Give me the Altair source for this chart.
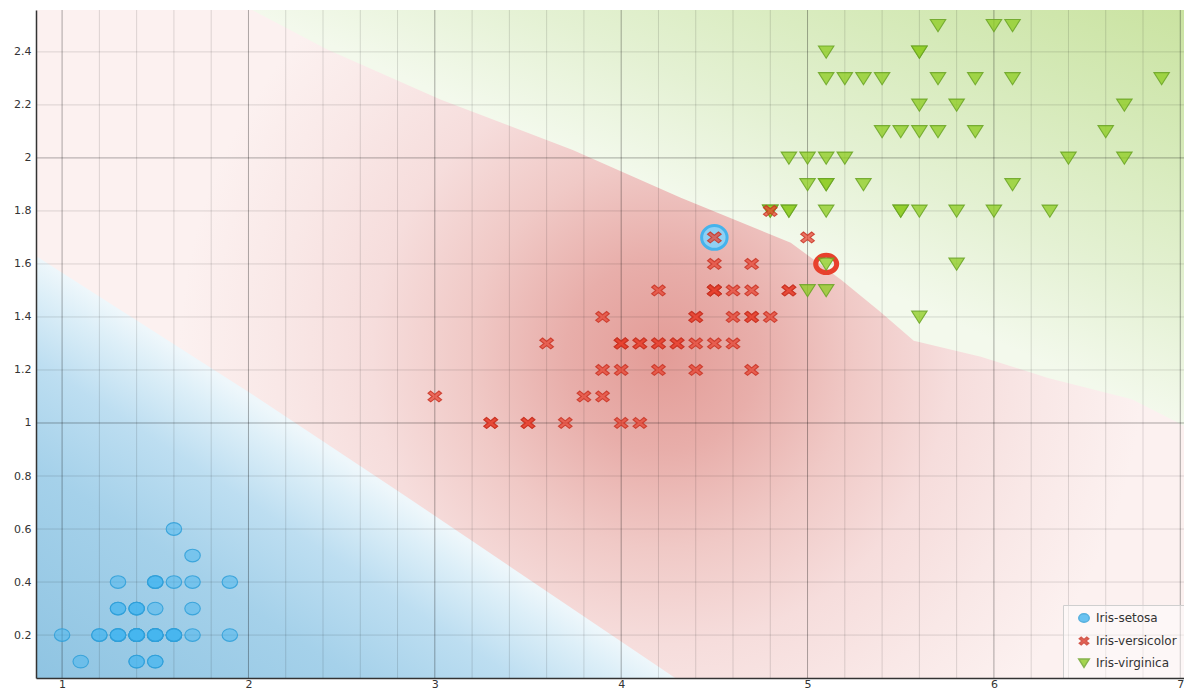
import altair as alt
import pandas as pd

# ---------------- data ----------------
X_DOMAIN = [0.86, 7.02]
Y_DOMAIN = [0.038, 2.558]
X_TICKS = [1, 2, 3, 4, 5, 6, 7]
Y_TICKS = [0.2, 0.4, 0.6, 0.8, 1.0, 1.2, 1.4, 1.6, 1.8, 2.0, 2.2, 2.4]
X_MAJOR_GRID = [1, 2, 3, 4, 5, 6, 7]
X_MINOR_GRID = [1.2, 1.4, 1.6, 1.8, 2.2, 2.4, 2.6, 2.8, 3.2, 3.4, 3.6, 3.8,
                4.2, 4.4, 4.6, 4.8, 5.2, 5.4, 5.6, 5.8, 6.2, 6.4, 6.6, 6.8]
Y_MAJOR_GRID = [1.0, 2.0]
Y_MINOR_GRID = [0.2, 0.4, 0.6, 0.8, 1.2, 1.4, 1.6, 1.8, 2.2, 2.4]

SETOSA_X = [1.4, 1.4, 1.3, 1.5, 1.4, 1.7, 1.4, 1.5, 1.4, 1.5, 1.5, 1.6, 1.4, 1.1, 1.2,
            1.5, 1.3, 1.4, 1.7, 1.5, 1.7, 1.5, 1.0, 1.7, 1.9, 1.6, 1.6, 1.5, 1.4, 1.6,
            1.6, 1.5, 1.5, 1.4, 1.5, 1.2, 1.3, 1.4, 1.3, 1.5, 1.3, 1.3, 1.3, 1.6, 1.9,
            1.4, 1.6, 1.4, 1.5, 1.4]
SETOSA_Y = [0.2, 0.2, 0.2, 0.2, 0.2, 0.4, 0.3, 0.2, 0.2, 0.1, 0.2, 0.2, 0.1, 0.1, 0.2,
            0.4, 0.4, 0.3, 0.3, 0.3, 0.2, 0.4, 0.2, 0.5, 0.2, 0.2, 0.4, 0.2, 0.2, 0.2,
            0.2, 0.4, 0.1, 0.2, 0.2, 0.2, 0.2, 0.1, 0.2, 0.2, 0.3, 0.3, 0.2, 0.6, 0.4,
            0.3, 0.2, 0.2, 0.2, 0.2]

VERSICOLOR_X = [4.7, 4.5, 4.9, 4.0, 4.6, 4.5, 4.7, 3.3, 4.6, 3.9, 3.5, 4.2, 4.0, 4.7, 3.6,
                4.4, 4.5, 4.1, 4.5, 3.9, 4.8, 4.0, 4.9, 4.7, 4.3, 4.4, 4.8, 5.0, 4.5, 3.5,
                3.8, 3.7, 3.9, 4.5, 4.5, 4.5, 4.7, 4.4, 4.1, 4.0, 4.4, 4.6, 4.0, 3.3, 4.2,
                4.2, 4.2, 4.3, 3.0, 4.1]
VERSICOLOR_Y = [1.4, 1.5, 1.5, 1.3, 1.5, 1.3, 1.6, 1.0, 1.3, 1.4, 1.0, 1.5, 1.0, 1.4, 1.3,
                1.4, 1.5, 1.0, 1.5, 1.1, 1.8, 1.3, 1.5, 1.2, 1.3, 1.4, 1.4, 1.7, 1.5, 1.0,
                1.1, 1.0, 1.2, 1.7, 1.5, 1.6, 1.5, 1.3, 1.3, 1.3, 1.2, 1.4, 1.2, 1.0, 1.3,
                1.2, 1.3, 1.3, 1.1, 1.3]

VIRGINICA_X = [6.0, 5.1, 5.9, 5.6, 5.8, 6.6, 5.1, 6.3, 5.8, 6.1, 5.1, 5.3, 5.5, 5.0, 5.1,
               5.3, 5.5, 6.7, 6.9, 5.0, 5.7, 4.9, 6.7, 4.9, 5.7, 6.0, 4.8, 4.9, 5.6, 5.8,
               6.1, 6.4, 5.6, 5.1, 5.6, 6.1, 5.6, 5.5, 4.8, 5.4, 5.6, 5.1, 5.1, 5.9, 5.7,
               5.2, 5.0, 5.2, 5.4, 5.1]
VIRGINICA_Y = [2.5, 1.9, 2.1, 1.8, 2.2, 2.1, 1.6, 1.8, 1.8, 2.5, 2.0, 1.9, 2.1, 2.0, 2.4,
               2.3, 1.8, 2.2, 2.3, 1.5, 2.3, 2.0, 2.0, 1.8, 2.1, 1.8, 1.8, 1.8, 2.1, 1.6,
               1.9, 2.0, 2.2, 1.5, 1.4, 2.3, 2.4, 1.8, 1.8, 2.1, 2.4, 2.3, 1.9, 2.3, 2.5,
               2.3, 1.9, 2.0, 2.3, 1.8]

SPECIES = ["Iris-setosa", "Iris-versicolor", "Iris-virginica"]
COLORS_FILL = ["#45b6f0", "#e8412f", "#8fcd25"]
COLORS_STROKE = ["#2f9fd8", "#c93424", "#6aa324"]
FILL_OPACITY = [0.5, 0.72, 0.78]

# highlighted samples
RING_BLUE_X = [4.5]
RING_BLUE_Y = [1.7]
RING_RED_X = [5.1]
RING_RED_Y = [1.6]

# decision-region edges
BLUE_EDGE_X = [0.86, 2.06, 2.81, 4.29]
BLUE_EDGE_Y = [1.63, 1.09, 0.74, 0.038]
GREEN_EDGE_X = [2.02, 2.42, 3.03, 3.74, 4.32, 4.91, 5.18, 5.39, 5.57, 5.93, 6.29, 6.74, 7.02]
GREEN_EDGE_Y = [2.558, 2.41, 2.22, 2.03, 1.85, 1.68, 1.54, 1.42, 1.31, 1.25, 1.17, 1.09, 0.99]

# ---------------- tables ----------------
frames = {
    SPECIES[0]: pd.DataFrame({"x": SETOSA_X, "y": SETOSA_Y, "species": SPECIES[0]}),
    SPECIES[1]: pd.DataFrame({"x": VERSICOLOR_X, "y": VERSICOLOR_Y, "species": SPECIES[1]}),
    SPECIES[2]: pd.DataFrame({"x": VIRGINICA_X, "y": VIRGINICA_Y, "species": SPECIES[2]}),
}

bg = pd.DataFrame({"x0": [X_DOMAIN[0]], "x1": [X_DOMAIN[1]],
                   "y0": [Y_DOMAIN[0]], "y1": [Y_DOMAIN[1]]})
blue_edge = pd.DataFrame({"x": BLUE_EDGE_X, "y": BLUE_EDGE_Y})
green_edge = pd.DataFrame({"x": GREEN_EDGE_X, "y": GREEN_EDGE_Y})

xs = alt.Scale(domain=X_DOMAIN, nice=False, zero=False)
ys = alt.Scale(domain=Y_DOMAIN, nice=False, zero=False)

FONT = "DejaVu Sans"

x_axis = alt.Axis(values=X_TICKS, format="d", grid=False, ticks=False,
                  domainColor="#333333", domainWidth=1.5, labelFont=FONT,
                  labelFontSize=11, labelColor="#333333", labelPadding=0,
                  labelFlush=False, title=None, zindex=2)
y_axis = alt.Axis(values=Y_TICKS, format="~g", grid=False, ticks=False,
                  domainColor="#333333", domainWidth=1.5, labelFont=FONT,
                  labelFontSize=11, labelColor="#333333", labelPadding=5,
                  labelFlush=False, title=None, zindex=2)

def stops(pairs):
    return [alt.GradientStop(color=c, offset=o) for o, c in pairs]

red_grad = alt.RadialGradient(
    gradient="radial",
    stops=stops([(0, "#e39c97"), (0.2, "#e8aeaa"), (0.4, "#f0c9c6"),
                 (0.6, "#f6dddc"), (0.8, "#f9e8e7"), (1, "#fcf1f0")]),
    x1=0.545, y1=0.51, r1=0, x2=0.545, y2=0.51, r2=0.42)

blue_grad = alt.LinearGradient(
    gradient="linear",
    stops=stops([(0, "#8fc4e2"), (0.5, "#a5d1ea"), (0.75, "#bddef1"),
                 (0.92, "#ddeff8"), (1, "#eef7fb")]),
    x1=0, y1=1, x2=0.5, y2=0.5)

green_grad = alt.LinearGradient(
    gradient="linear",
    stops=stops([(0, "#f3f9ec"), (0.3, "#e4f1d3"), (0.7, "#d4e9b6"), (1, "#cae3a1")]),
    x1=0.5, y1=0.5, x2=1, y2=0)

background = alt.Chart(bg).mark_rect(fill=red_grad).encode(
    x=alt.X("x0:Q", scale=xs, axis=x_axis), x2="x1:Q",
    y=alt.Y("y0:Q", scale=ys, axis=y_axis), y2="y1:Q")

blue_area = alt.Chart(blue_edge).mark_area(fill=blue_grad, clip=True).encode(
    x=alt.X("x:Q", scale=xs), y=alt.Y("y:Q", scale=ys), y2=alt.datum(Y_DOMAIN[0]))

green_area = alt.Chart(green_edge).mark_area(fill=green_grad, clip=True).encode(
    x=alt.X("x:Q", scale=xs), y=alt.Y("y:Q", scale=ys), y2=alt.datum(Y_DOMAIN[1]))

vminor = alt.Chart(pd.DataFrame({"x": X_MINOR_GRID})).mark_rule(
    color="#000000", opacity=0.13, strokeWidth=1).encode(x=alt.X("x:Q", scale=xs))
vmajor = alt.Chart(pd.DataFrame({"x": X_MAJOR_GRID})).mark_rule(
    color="#000000", opacity=0.32, strokeWidth=1).encode(x=alt.X("x:Q", scale=xs))
hminor = alt.Chart(pd.DataFrame({"y": Y_MINOR_GRID})).mark_rule(
    color="#000000", opacity=0.13, strokeWidth=1).encode(y=alt.Y("y:Q", scale=ys))
hmajor = alt.Chart(pd.DataFrame({"y": Y_MAJOR_GRID})).mark_rule(
    color="#000000", opacity=0.32, strokeWidth=1).encode(y=alt.Y("y:Q", scale=ys))

ELLIPSE = "M-1,0A1,0.82,0,1,1,1,0A1,0.82,0,1,1,-1,0Z"
XSHAPE = ("M-0.53,-0.7L0,-0.28L0.53,-0.7L0.88,-0.42L0.35,0L0.88,0.42L0.53,0.7"
          "L0,0.28L-0.53,0.7L-0.88,0.42L-0.35,0L-0.88,-0.42Z")
TRI = "M-1,-0.75L1,-0.75L0,0.82Z"

ring_blue = alt.Chart(pd.DataFrame({"x": RING_BLUE_X, "y": RING_BLUE_Y})).mark_point(
    shape="M-1,0A1,0.93,0,1,1,1,0A1,0.93,0,1,1,-1,0Z", size=650, filled=True,
    fill="#8fd0f3", stroke="#45b3ec", strokeWidth=3, opacity=1).encode(
    x=alt.X("x:Q", scale=xs), y=alt.Y("y:Q", scale=ys))

ring_red = alt.Chart(pd.DataFrame({"x": RING_RED_X, "y": RING_RED_Y})).mark_point(
    shape="M-1,0A1,0.82,0,1,1,1,0A1,0.82,0,1,1,-1,0Z", size=441, filled=False,
    stroke="#e8402c", strokeWidth=5, opacity=1).encode(
    x=alt.X("x:Q", scale=xs), y=alt.Y("y:Q", scale=ys))

legend = alt.Legend(title=None, orient="bottom-right", offset=0, padding=7,
                    fillColor="rgba(255,255,255,0.45)", strokeColor="#cfcfcf",
                    labelFont=FONT, labelFontSize=12, labelColor="#333333",
                    symbolSize=110, labelOffset=6, rowPadding=8, symbolOffset=8,
                    symbolOpacity=0.8, cornerRadius=0)

shape_scale = alt.Scale(domain=SPECIES, range=[ELLIPSE, XSHAPE, TRI])
fill_scale = alt.Scale(domain=SPECIES, range=COLORS_FILL)
stroke_scale = alt.Scale(domain=SPECIES, range=COLORS_STROKE)

def species_layer(i):
    return alt.Chart(frames[SPECIES[i]]).mark_point(
        filled=True, size=240, fillOpacity=FILL_OPACITY[i],
        strokeWidth=1.1, strokeOpacity=0.85).encode(
        x=alt.X("x:Q", scale=xs),
        y=alt.Y("y:Q", scale=ys),
        shape=alt.Shape("species:N", scale=shape_scale, legend=legend),
        fill=alt.Fill("species:N", scale=fill_scale, legend=legend),
        stroke=alt.Stroke("species:N", scale=stroke_scale, legend=legend),
    )

chart = alt.layer(background, blue_area, green_area, vminor, hminor, vmajor, hmajor,
                  ring_blue, ring_red, species_layer(0), species_layer(2),
                  species_layer(1)).properties(
    width=1148, height=668,
    padding={"left": 36, "top": 10, "right": 0, "bottom": 12},
    autosize=alt.AutoSizeParams(type="none"),
    background="white",
).configure_view(stroke=None)

chart.save("out.html", embed_options={"renderer": "svg", "actions": False})
